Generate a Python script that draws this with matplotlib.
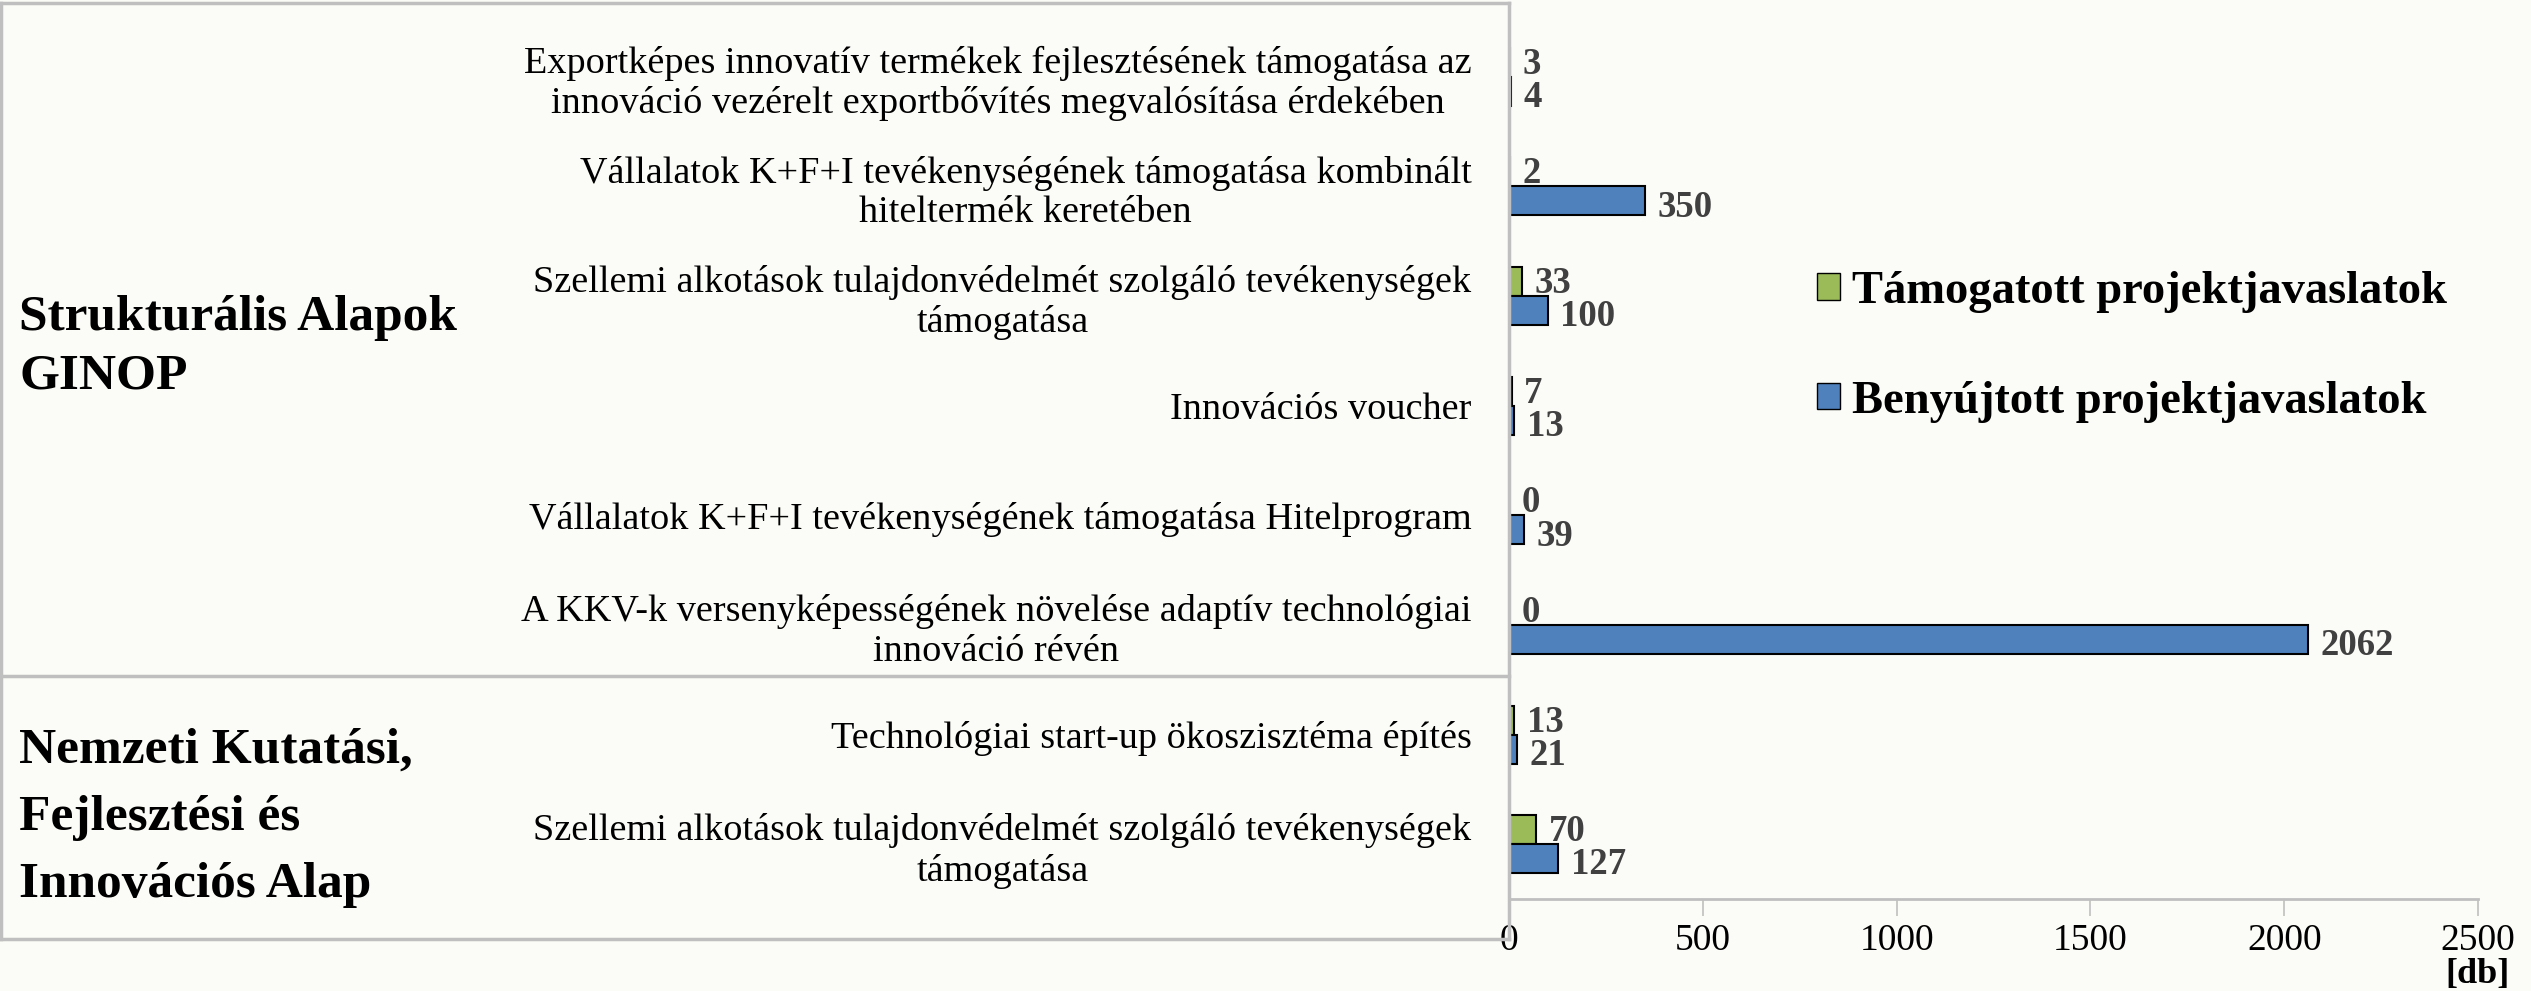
import matplotlib.pyplot as plt
import numpy as np
from matplotlib.lines import Line2D
from matplotlib.patches import Patch

plt.rcParams['font.family'] = ['Liberation Serif', 'DejaVu Serif']

categories = [
    "Exportképes innovatív termékek fejlesztésének támogatása az\ninnováció vezérelt exportbővítés megvalósítása érdekében",
    "Vállalatok K+F+I tevékenységének támogatása kombinált\nhiteltermék keretében",
    "Szellemi alkotások tulajdonvédelmét szolgáló tevékenységek\ntámogatása",
    "Innovációs voucher",
    "Vállalatok K+F+I tevékenységének támogatása Hitelprogram",
    "A KKV-k versenyképességének növelése adaptív technológiai\ninnováció révén",
    "Technológiai start-up ökoszisztéma építés",
    "Szellemi alkotások tulajdonvédelmét szolgáló tevékenységek\ntámogatása",
]
tamogatott = [3, 2, 33, 7, 0, 0, 13, 70]
benyujtott = [4, 350, 100, 13, 39, 2062, 21, 127]
groups = ["Strukturális Alapok\nGINOP", "Nemzeti Kutatási,\nFejlesztési és\nInnovációs Alap"]
legend_labels = ["Támogatott projektjavaslatok", "Benyújtott projektjavaslatok"]
xticks = [0, 500, 1000, 1500, 2000, 2500]

green = "#9BBB59"
blue = "#4F81BD"
bg = "#FBFBF7"
frame = "#BFBFBF"

W, H = 2531, 991
fig = plt.figure(figsize=(W / 100, H / 100), dpi=100, facecolor=bg)
ax = fig.add_axes([1509 / W, 1 - 899 / H, (2478 - 1509) / W, (899 - 22) / H])
ax.set_facecolor(bg)

y = np.arange(len(categories))
h = 0.265
ax.barh(y - h / 2, tamogatott, height=h, color=green, edgecolor="black", linewidth=1.5)
ax.barh(y + h / 2, benyujtott, height=h, color=blue, edgecolor="black", linewidth=1.5)

for yi, v in zip(y - h / 2, tamogatott):
    ax.annotate(str(v), (v, yi), xytext=(9, -1.5), textcoords="offset points",
                va="center", ha="left", fontsize=26.5, fontweight="bold", color="#404040")
for yi, v in zip(y + h / 2, benyujtott):
    ax.annotate(str(v), (v, yi), xytext=(9, -4.5), textcoords="offset points",
                va="center", ha="left", fontsize=26.5, fontweight="bold", color="#404040")

ax.set_ylim(len(categories) - 0.5, -0.5)
ax.set_xlim(0, 2500)
ax.set_xticks(xticks)
ax.tick_params(axis="x", labelsize=27, length=12, width=1.2, color=frame, pad=6)
ax.set_yticks(y)
ax.set_yticklabels(categories, fontsize=27.5)
for lab in ax.get_yticklabels():
    lab.set_multialignment("center")
ax.tick_params(axis="y", length=0, pad=27)
for s in ["top", "right"]:
    ax.spines[s].set_visible(False)
ax.spines["left"].set_color(frame)
ax.spines["left"].set_linewidth(2)
ax.spines["bottom"].set_color(frame)
ax.spines["bottom"].set_linewidth(2)

# frame around the category labels
def fline(x0, y0, x1, y1):
    fig.add_artist(Line2D([x0 / W, x1 / W], [1 - y0 / H, 1 - y1 / H],
                          transform=fig.transFigure, color=frame, lw=2.5))

fline(0, 3, 1509, 3)
fline(1, 3, 1, 939)
fline(0, 939, 1509, 939)
fline(0, 676, 1509, 676)
fline(1509, 3, 1509, 939)

fig.text(19 / W, 1 - 347 / H, groups[0], fontsize=37, fontweight="bold",
         ha="left", va="center", linespacing=1.36)
fig.text(19 / W, 1 - 818 / H, groups[1], fontsize=37, fontweight="bold",
         ha="left", va="center", linespacing=1.6)

handles = [Patch(facecolor=green, edgecolor="black"), Patch(facecolor=blue, edgecolor="black")]
fig.legend(handles, legend_labels, loc="center left", bbox_to_anchor=(1775 / W, 1 - 347 / H),
           frameon=False, prop={"size": 33.5, "weight": "bold"}, handlelength=0.5,
           handleheight=0.5, handletextpad=0.25, labelspacing=1.45)

fig.text(2478 / W, 0, "[db]", fontsize=26, fontweight="bold", ha="center", va="bottom")

fig.savefig("out.png", dpi=100, facecolor=bg)
